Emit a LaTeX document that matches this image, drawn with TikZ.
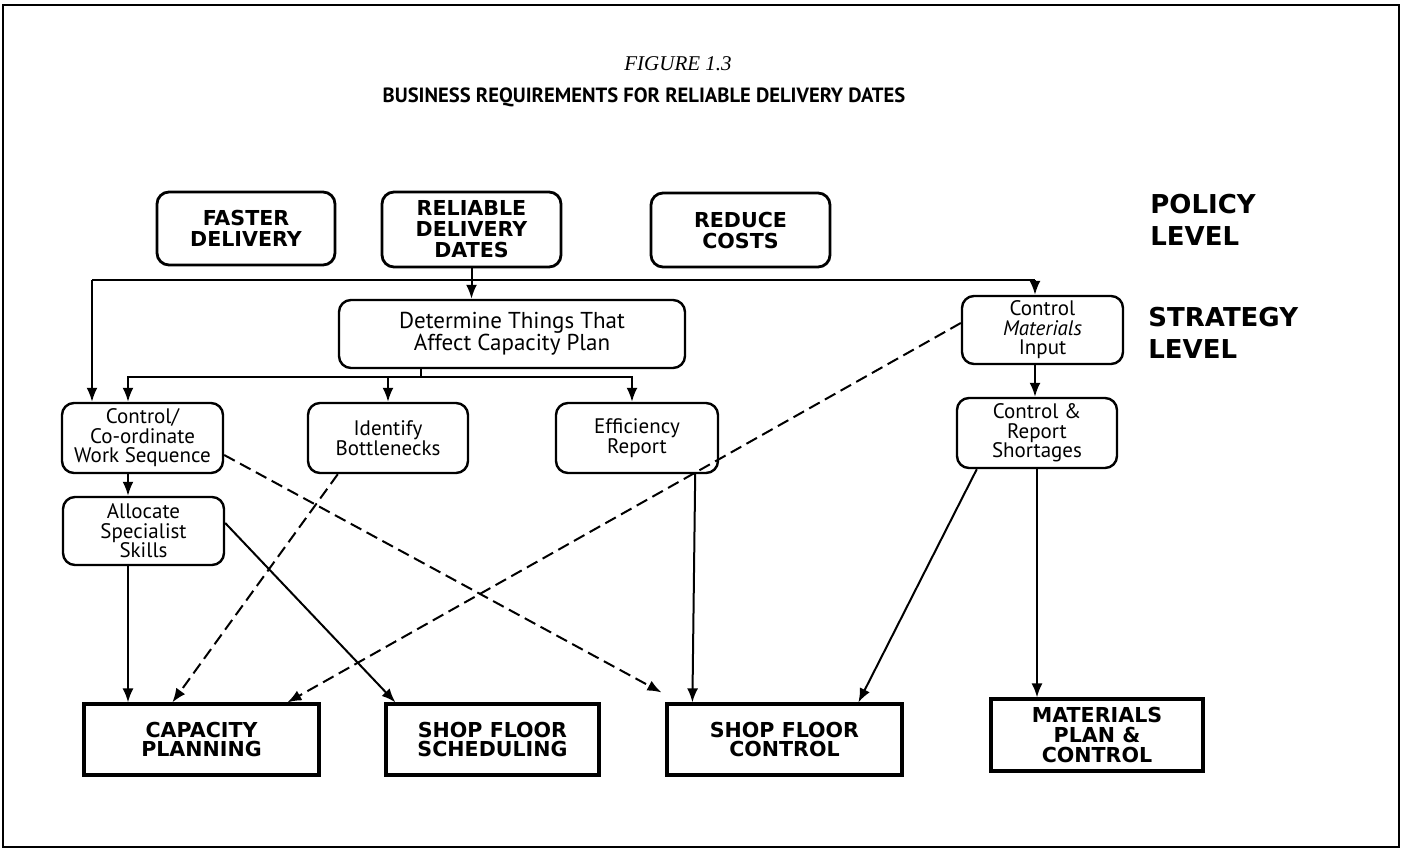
\documentclass[tikz,border=0pt]{standalone}
\usepackage{fontspec}
\setmainfont{Liberation Serif}
\setsansfont{PT Sans}
\newfontfamily\capsfont{DejaVu Sans}
\usetikzlibrary{positioning,calc,arrows.meta}

\begin{document}
\begin{tikzpicture}[
  x=0.5pt, y=-0.5pt,
  >={Latex[length=7pt,width=5.5pt]},
  goal/.style={draw,line width=1.4pt,rounded corners=6pt,align=center,inner sep=0pt,
    font=\capsfont\bfseries\fontsize{10.3}{10.5}\selectfont},
  task/.style={draw,line width=1.2pt,rounded corners=6pt,align=center,inner sep=0pt,
    font=\sffamily\fontsize{10.5}{9.8}\selectfont},
  sys/.style={draw,line width=1.6pt,align=center,inner sep=0pt,
    font=\capsfont\bfseries\fontsize{10.3}{9.5}\selectfont},
  lvl/.style={anchor=west,align=left,inner sep=0pt,
    font=\capsfont\bfseries\fontsize{13}{16}\selectfont},
  link/.style={line width=1pt},
  weak/.style={line width=1pt,dash pattern=on 6pt off 3pt}
  ]
  \useasboundingbox (0,0) rectangle (1403,851);
  \draw[line width=1.2pt] (3,5) rectangle (1399,847);

  \node (fig) at (678,64) {\fontsize{10.5}{12}\selectfont\itshape FIGURE 1.3};
  \node (title) at (644,97)
    {\sffamily\bfseries\fontsize{10.3}{12}\selectfont BUSINESS REQUIREMENTS FOR RELIABLE DELIVERY DATES};

  % policy level
  \node[goal,minimum width=89pt,minimum height=36.5pt] (fast) at (246,228.5) {FASTER\\DELIVERY};
  \node[goal,minimum width=89.5pt,minimum height=37.5pt] (rel) at (471.5,229.5) {RELIABLE\\DELIVERY\\DATES};
  \node[goal,minimum width=89.5pt,minimum height=37pt] (cost) at (740.5,230) {REDUCE\\COSTS};
  \node[lvl] (pol) at (1150,220) {POLICY\\LEVEL};

  % strategy level
  \node[task,minimum width=173pt,minimum height=34pt,font=\sffamily\fontsize{11.5}{11}\selectfont]
    (det) at (512,334) {Determine Things That\\Affect Capacity Plan};
  \node[task,minimum width=80.5pt,minimum height=34pt] (mat) at (1042.5,330) {Control\\\textit{Materials}\\Input};
  \node[lvl] (str) at (1148,333) {STRATEGY\\LEVEL};

  \node[task,minimum width=80.5pt,minimum height=35pt] (coord) at (142.5,438) {Control/\\Co-ordinate\\Work Sequence};
  \node[task,minimum width=80pt,minimum height=35pt] (neck) at (388,438) {Identify\\Bottlenecks};
  \node[task,minimum width=81pt,minimum height=35pt] (eff) at (637,438) {Efficiency\\Report};
  \node[task,minimum width=80pt,minimum height=35pt] (short) at (1037,433) {Control \&\\Report\\Shortages};
  \node[task,minimum width=80.5pt,minimum height=34pt] (skill) at (143.5,531) {Allocate\\Specialist\\Skills};

  % systems
  \node[sys,minimum width=117.5pt,minimum height=35.5pt] (cap) at (201.5,739.5) {CAPACITY\\PLANNING};
  \node[sys,minimum width=106.5pt,minimum height=35.5pt] (sched) at (492.5,739.5) {SHOP FLOOR\\SCHEDULING};
  \node[sys,minimum width=117.5pt,minimum height=35.5pt] (sfc) at (784.5,739.5) {SHOP FLOOR\\CONTROL};
  \node[sys,minimum width=106pt,minimum height=36pt,font=\capsfont\bfseries\fontsize{10.3}{10}\selectfont]
    (mpc) at (1097,735) {MATERIALS\\PLAN \&\\CONTROL};

  \coordinate (busL) at (92,280);
  \coordinate (busR) at (1035,280);
  \coordinate (split) at (421,377);
  \coordinate (sL) at (128,377);
  \coordinate (sR) at (632,377);

  \draw[link] (busL) -- (busR);
  \draw[link,->] (busL) -- (busL |- coord.north);
  \draw[link,->] (busR) -- (busR |- mat.north);
  \draw[link,->] (rel.south) -- (rel.south |- det.north);
  \draw[link] (split |- det.south) -- (split);
  \draw[link,->] (split) -| (sL |- coord.north);
  \draw[link,->] (split) -| (sR |- eff.north);
  \draw[link,->] (neck.north |- split) -- (neck.north);

  \path[link,->]
  (sL |- coord.south)  edge (sL |- skill.north)
  (sL |- skill.south)  edge (sL |- cap.north)
  ($(skill.east)+(0,-8)$) edge ($(sched.north west)+(11,0)$)
  ($(eff.south east)+(-24,0)$) edge ($(sfc.north west)+(27,0)$)
  ($(short.south west)+(21,0)$) edge ($(sfc.north west)+(193,0)$)
  (busR |- mat.south)  edge (busR |- short.north)
  (short.south)        edge (short.south |- mpc.north)
  ;

  \path[weak,->]
  ($(neck.south west)+(31,0)$) edge ($(cap.north west)+(90,0)$)
  ($(mat.west)+(0,-7)$)        edge ($(cap.north west)+(205,0)$)
  ($(coord.east)+(0,17)$)      edge ($(sfc.north west)+(-4,-10)$)
  ;
\end{tikzpicture}
\end{document}
